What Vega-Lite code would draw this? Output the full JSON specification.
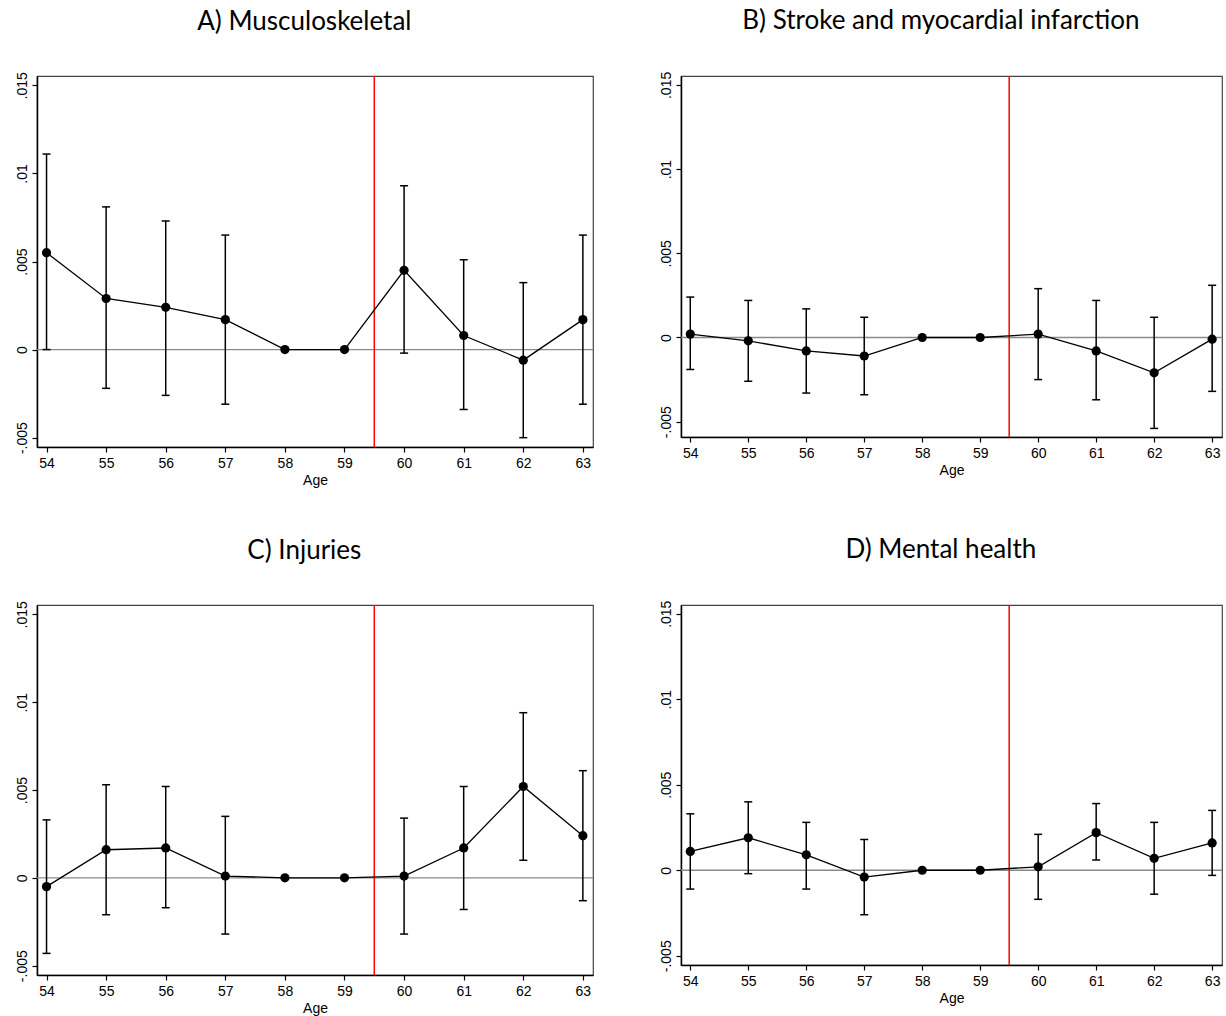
{
  "$schema": "https://vega.github.io/schema/vega-lite/v6.json",
  "padding": {"left": 14, "top": 7, "right": 0, "bottom": 0},
  "background": "white",
  "datasets": {
    "A": [
      {"age": 54, "est": 0.0055, "lo": 0.0, "hi": 0.0111},
      {"age": 55, "est": 0.0029, "lo": -0.0022, "hi": 0.0081},
      {"age": 56, "est": 0.0024, "lo": -0.0026, "hi": 0.0073},
      {"age": 57, "est": 0.0017, "lo": -0.0031, "hi": 0.0065},
      {"age": 58, "est": 0.0, "lo": 0.0, "hi": 0.0},
      {"age": 59, "est": 0.0, "lo": 0.0, "hi": 0.0},
      {"age": 60, "est": 0.0045, "lo": -0.0002, "hi": 0.0093},
      {"age": 61, "est": 0.0008, "lo": -0.0034, "hi": 0.0051},
      {"age": 62, "est": -0.0006, "lo": -0.0050, "hi": 0.0038},
      {"age": 63, "est": 0.0017, "lo": -0.0031, "hi": 0.0065}
    ],
    "B": [
      {"age": 54, "est": 0.0002, "lo": -0.0019, "hi": 0.0024},
      {"age": 55, "est": -0.0002, "lo": -0.0026, "hi": 0.0022},
      {"age": 56, "est": -0.0008, "lo": -0.0033, "hi": 0.0017},
      {"age": 57, "est": -0.0011, "lo": -0.0034, "hi": 0.0012},
      {"age": 58, "est": 0.0, "lo": 0.0, "hi": 0.0},
      {"age": 59, "est": 0.0, "lo": 0.0, "hi": 0.0},
      {"age": 60, "est": 0.0002, "lo": -0.0025, "hi": 0.0029},
      {"age": 61, "est": -0.0008, "lo": -0.0037, "hi": 0.0022},
      {"age": 62, "est": -0.0021, "lo": -0.0054, "hi": 0.0012},
      {"age": 63, "est": -0.0001, "lo": -0.0032, "hi": 0.0031}
    ],
    "C": [
      {"age": 54, "est": -0.0005, "lo": -0.0043, "hi": 0.0033},
      {"age": 55, "est": 0.0016, "lo": -0.0021, "hi": 0.0053},
      {"age": 56, "est": 0.0017, "lo": -0.0017, "hi": 0.0052},
      {"age": 57, "est": 0.0001, "lo": -0.0032, "hi": 0.0035},
      {"age": 58, "est": 0.0, "lo": 0.0, "hi": 0.0},
      {"age": 59, "est": 0.0, "lo": 0.0, "hi": 0.0},
      {"age": 60, "est": 0.0001, "lo": -0.0032, "hi": 0.0034},
      {"age": 61, "est": 0.0017, "lo": -0.0018, "hi": 0.0052},
      {"age": 62, "est": 0.0052, "lo": 0.0010, "hi": 0.0094},
      {"age": 63, "est": 0.0024, "lo": -0.0013, "hi": 0.0061}
    ],
    "D": [
      {"age": 54, "est": 0.0011, "lo": -0.0011, "hi": 0.0033},
      {"age": 55, "est": 0.0019, "lo": -0.0002, "hi": 0.0040},
      {"age": 56, "est": 0.0009, "lo": -0.0011, "hi": 0.0028},
      {"age": 57, "est": -0.0004, "lo": -0.0026, "hi": 0.0018},
      {"age": 58, "est": 0.0, "lo": 0.0, "hi": 0.0},
      {"age": 59, "est": 0.0, "lo": 0.0, "hi": 0.0},
      {"age": 60, "est": 0.0002, "lo": -0.0017, "hi": 0.0021},
      {"age": 61, "est": 0.0022, "lo": 0.0006, "hi": 0.0039},
      {"age": 62, "est": 0.0007, "lo": -0.0014, "hi": 0.0028},
      {"age": 63, "est": 0.0016, "lo": -0.0003, "hi": 0.0035}
    ]
  },
  "vconcat": [
    {
      "hconcat": [
        {
          "title": "A) Musculoskeletal",
          "width": 556, "height": 371,
          "data": {"name": "A"},
          "layer": [
            {"data": {"values": [{}]}, "mark": {"type": "rule", "color": "#8a8a8a", "strokeWidth": 1.4}, "encoding": {"y": {"datum": 0, "type": "quantitative", "scale": {"domain": [-0.00553, 0.01553], "nice": false, "zero": false}, "title": null, "axis": {"values": [-0.005, 0, 0.005, 0.01, 0.015]}}}},
            {"data": {"values": [{}]}, "mark": {"type": "rule", "color": "#ff0000", "strokeWidth": 1.5}, "encoding": {"x": {"datum": 59.5, "type": "quantitative", "scale": {"domain": [53.84, 63.17], "nice": false, "zero": false}, "title": "Age", "axis": {"values": [54, 55, 56, 57, 58, 59, 60, 61, 62, 63], "format": "d"}}}},
            {"mark": {"type": "rule", "color": "black", "strokeWidth": 1.5}, "encoding": {"x": {"field": "age", "type": "quantitative", "scale": {"domain": [53.84, 63.17], "nice": false, "zero": false}, "title": "Age", "axis": {"values": [54, 55, 56, 57, 58, 59, 60, 61, 62, 63], "format": "d"}}, "y": {"field": "lo", "type": "quantitative", "scale": {"domain": [-0.00553, 0.01553], "nice": false, "zero": false}, "title": null, "axis": {"values": [-0.005, 0, 0.005, 0.01, 0.015]}}, "y2": {"field": "hi"}}},
            {"mark": {"type": "tick", "orient": "horizontal", "size": 8, "thickness": 1.5, "color": "black", "opacity": 1}, "encoding": {"x": {"field": "age", "type": "quantitative"}, "y": {"field": "lo", "type": "quantitative"}}},
            {"mark": {"type": "tick", "orient": "horizontal", "size": 8, "thickness": 1.5, "color": "black", "opacity": 1}, "encoding": {"x": {"field": "age", "type": "quantitative"}, "y": {"field": "hi", "type": "quantitative"}}},
            {"mark": {"type": "line", "color": "black", "strokeWidth": 1.3}, "encoding": {"x": {"field": "age", "type": "quantitative"}, "y": {"field": "est", "type": "quantitative"}}},
            {"mark": {"type": "circle", "color": "black", "opacity": 1, "size": 85}, "encoding": {"x": {"field": "age", "type": "quantitative"}, "y": {"field": "est", "type": "quantitative"}}}
          ]
        },
        {
          "title": "B) Stroke and myocardial infarction",
          "width": 541, "height": 361,
          "data": {"name": "B"},
          "layer": [
            {"data": {"values": [{}]}, "mark": {"type": "rule", "color": "#8a8a8a", "strokeWidth": 1.4}, "encoding": {"y": {"datum": 0, "type": "quantitative", "scale": {"domain": [-0.00591, 0.01553], "nice": false, "zero": false}, "title": null, "axis": {"values": [-0.005, 0, 0.005, 0.01, 0.015]}}}},
            {"data": {"values": [{}]}, "mark": {"type": "rule", "color": "#ff0000", "strokeWidth": 1.5}, "encoding": {"x": {"datum": 59.5, "type": "quantitative", "scale": {"domain": [53.84, 63.17], "nice": false, "zero": false}, "title": "Age", "axis": {"values": [54, 55, 56, 57, 58, 59, 60, 61, 62, 63], "format": "d"}}}},
            {"mark": {"type": "rule", "color": "black", "strokeWidth": 1.5}, "encoding": {"x": {"field": "age", "type": "quantitative", "scale": {"domain": [53.84, 63.17], "nice": false, "zero": false}, "title": "Age", "axis": {"values": [54, 55, 56, 57, 58, 59, 60, 61, 62, 63], "format": "d"}}, "y": {"field": "lo", "type": "quantitative", "scale": {"domain": [-0.00591, 0.01553], "nice": false, "zero": false}, "title": null, "axis": {"values": [-0.005, 0, 0.005, 0.01, 0.015]}}, "y2": {"field": "hi"}}},
            {"mark": {"type": "tick", "orient": "horizontal", "size": 8, "thickness": 1.5, "color": "black", "opacity": 1}, "encoding": {"x": {"field": "age", "type": "quantitative"}, "y": {"field": "lo", "type": "quantitative"}}},
            {"mark": {"type": "tick", "orient": "horizontal", "size": 8, "thickness": 1.5, "color": "black", "opacity": 1}, "encoding": {"x": {"field": "age", "type": "quantitative"}, "y": {"field": "hi", "type": "quantitative"}}},
            {"mark": {"type": "line", "color": "black", "strokeWidth": 1.3}, "encoding": {"x": {"field": "age", "type": "quantitative"}, "y": {"field": "est", "type": "quantitative"}}},
            {"mark": {"type": "circle", "color": "black", "opacity": 1, "size": 85}, "encoding": {"x": {"field": "age", "type": "quantitative"}, "y": {"field": "est", "type": "quantitative"}}}
          ]
        }
      ],
      "spacing": 63
    },
    {
      "hconcat": [
        {
          "title": "C) Injuries",
          "width": 556, "height": 370,
          "data": {"name": "C"},
          "layer": [
            {"data": {"values": [{}]}, "mark": {"type": "rule", "color": "#8a8a8a", "strokeWidth": 1.4}, "encoding": {"y": {"datum": 0, "type": "quantitative", "scale": {"domain": [-0.00553, 0.01553], "nice": false, "zero": false}, "title": null, "axis": {"values": [-0.005, 0, 0.005, 0.01, 0.015]}}}},
            {"data": {"values": [{}]}, "mark": {"type": "rule", "color": "#ff0000", "strokeWidth": 1.5}, "encoding": {"x": {"datum": 59.5, "type": "quantitative", "scale": {"domain": [53.84, 63.17], "nice": false, "zero": false}, "title": "Age", "axis": {"values": [54, 55, 56, 57, 58, 59, 60, 61, 62, 63], "format": "d"}}}},
            {"mark": {"type": "rule", "color": "black", "strokeWidth": 1.5}, "encoding": {"x": {"field": "age", "type": "quantitative", "scale": {"domain": [53.84, 63.17], "nice": false, "zero": false}, "title": "Age", "axis": {"values": [54, 55, 56, 57, 58, 59, 60, 61, 62, 63], "format": "d"}}, "y": {"field": "lo", "type": "quantitative", "scale": {"domain": [-0.00553, 0.01553], "nice": false, "zero": false}, "title": null, "axis": {"values": [-0.005, 0, 0.005, 0.01, 0.015]}}, "y2": {"field": "hi"}}},
            {"mark": {"type": "tick", "orient": "horizontal", "size": 8, "thickness": 1.5, "color": "black", "opacity": 1}, "encoding": {"x": {"field": "age", "type": "quantitative"}, "y": {"field": "lo", "type": "quantitative"}}},
            {"mark": {"type": "tick", "orient": "horizontal", "size": 8, "thickness": 1.5, "color": "black", "opacity": 1}, "encoding": {"x": {"field": "age", "type": "quantitative"}, "y": {"field": "hi", "type": "quantitative"}}},
            {"mark": {"type": "line", "color": "black", "strokeWidth": 1.3}, "encoding": {"x": {"field": "age", "type": "quantitative"}, "y": {"field": "est", "type": "quantitative"}}},
            {"mark": {"type": "circle", "color": "black", "opacity": 1, "size": 85}, "encoding": {"x": {"field": "age", "type": "quantitative"}, "y": {"field": "est", "type": "quantitative"}}}
          ]
        },
        {
          "title": "D) Mental health",
          "width": 541, "height": 360,
          "data": {"name": "D"},
          "layer": [
            {"data": {"values": [{}]}, "mark": {"type": "rule", "color": "#8a8a8a", "strokeWidth": 1.4}, "encoding": {"y": {"datum": 0, "type": "quantitative", "scale": {"domain": [-0.00554, 0.01551], "nice": false, "zero": false}, "title": null, "axis": {"values": [-0.005, 0, 0.005, 0.01, 0.015]}}}},
            {"data": {"values": [{}]}, "mark": {"type": "rule", "color": "#ff0000", "strokeWidth": 1.5}, "encoding": {"x": {"datum": 59.5, "type": "quantitative", "scale": {"domain": [53.84, 63.17], "nice": false, "zero": false}, "title": "Age", "axis": {"values": [54, 55, 56, 57, 58, 59, 60, 61, 62, 63], "format": "d"}}}},
            {"mark": {"type": "rule", "color": "black", "strokeWidth": 1.5}, "encoding": {"x": {"field": "age", "type": "quantitative", "scale": {"domain": [53.84, 63.17], "nice": false, "zero": false}, "title": "Age", "axis": {"values": [54, 55, 56, 57, 58, 59, 60, 61, 62, 63], "format": "d"}}, "y": {"field": "lo", "type": "quantitative", "scale": {"domain": [-0.00554, 0.01551], "nice": false, "zero": false}, "title": null, "axis": {"values": [-0.005, 0, 0.005, 0.01, 0.015]}}, "y2": {"field": "hi"}}},
            {"mark": {"type": "tick", "orient": "horizontal", "size": 8, "thickness": 1.5, "color": "black", "opacity": 1}, "encoding": {"x": {"field": "age", "type": "quantitative"}, "y": {"field": "lo", "type": "quantitative"}}},
            {"mark": {"type": "tick", "orient": "horizontal", "size": 8, "thickness": 1.5, "color": "black", "opacity": 1}, "encoding": {"x": {"field": "age", "type": "quantitative"}, "y": {"field": "hi", "type": "quantitative"}}},
            {"mark": {"type": "line", "color": "black", "strokeWidth": 1.3}, "encoding": {"x": {"field": "age", "type": "quantitative"}, "y": {"field": "est", "type": "quantitative"}}},
            {"mark": {"type": "circle", "color": "black", "opacity": 1, "size": 85}, "encoding": {"x": {"field": "age", "type": "quantitative"}, "y": {"field": "est", "type": "quantitative"}}}
          ]
        }
      ],
      "spacing": 63
    }
  ],
  "spacing": 48,
  "config": {
    "view": {"stroke": "#444444", "strokeWidth": 1.2},
    "axis": {
      "grid": false,
      "domainColor": "black",
      "domainWidth": 1.5,
      "tickColor": "black",
      "tickWidth": 1.2,
      "tickSize": 5,
      "labelFont": "Liberation Sans",
      "labelFontSize": 14,
      "labelColor": "black",
      "titleFont": "Liberation Sans",
      "titleFontSize": 14,
      "titleFontWeight": "normal",
      "titleColor": "black"
    },
    "axisX": {"labelPadding": 4, "titlePadding": 3},
    "axisY": {
      "labelAngle": -90,
      "labelAlign": "center",
      "labelBaseline": "bottom",
      "labelPadding": 3,
      "labelExpr": "datum.value == 0 ? '0' : (datum.value < 0 ? '-' : '') + replace(format(abs(datum.value), '.3~f'), '0.', '.')"
    },
    "title": {"font": "Lato", "fontSize": 26, "fontWeight": "normal", "color": "black", "offset": 37, "anchor": "middle", "frame": "bounds"}
  }
}
